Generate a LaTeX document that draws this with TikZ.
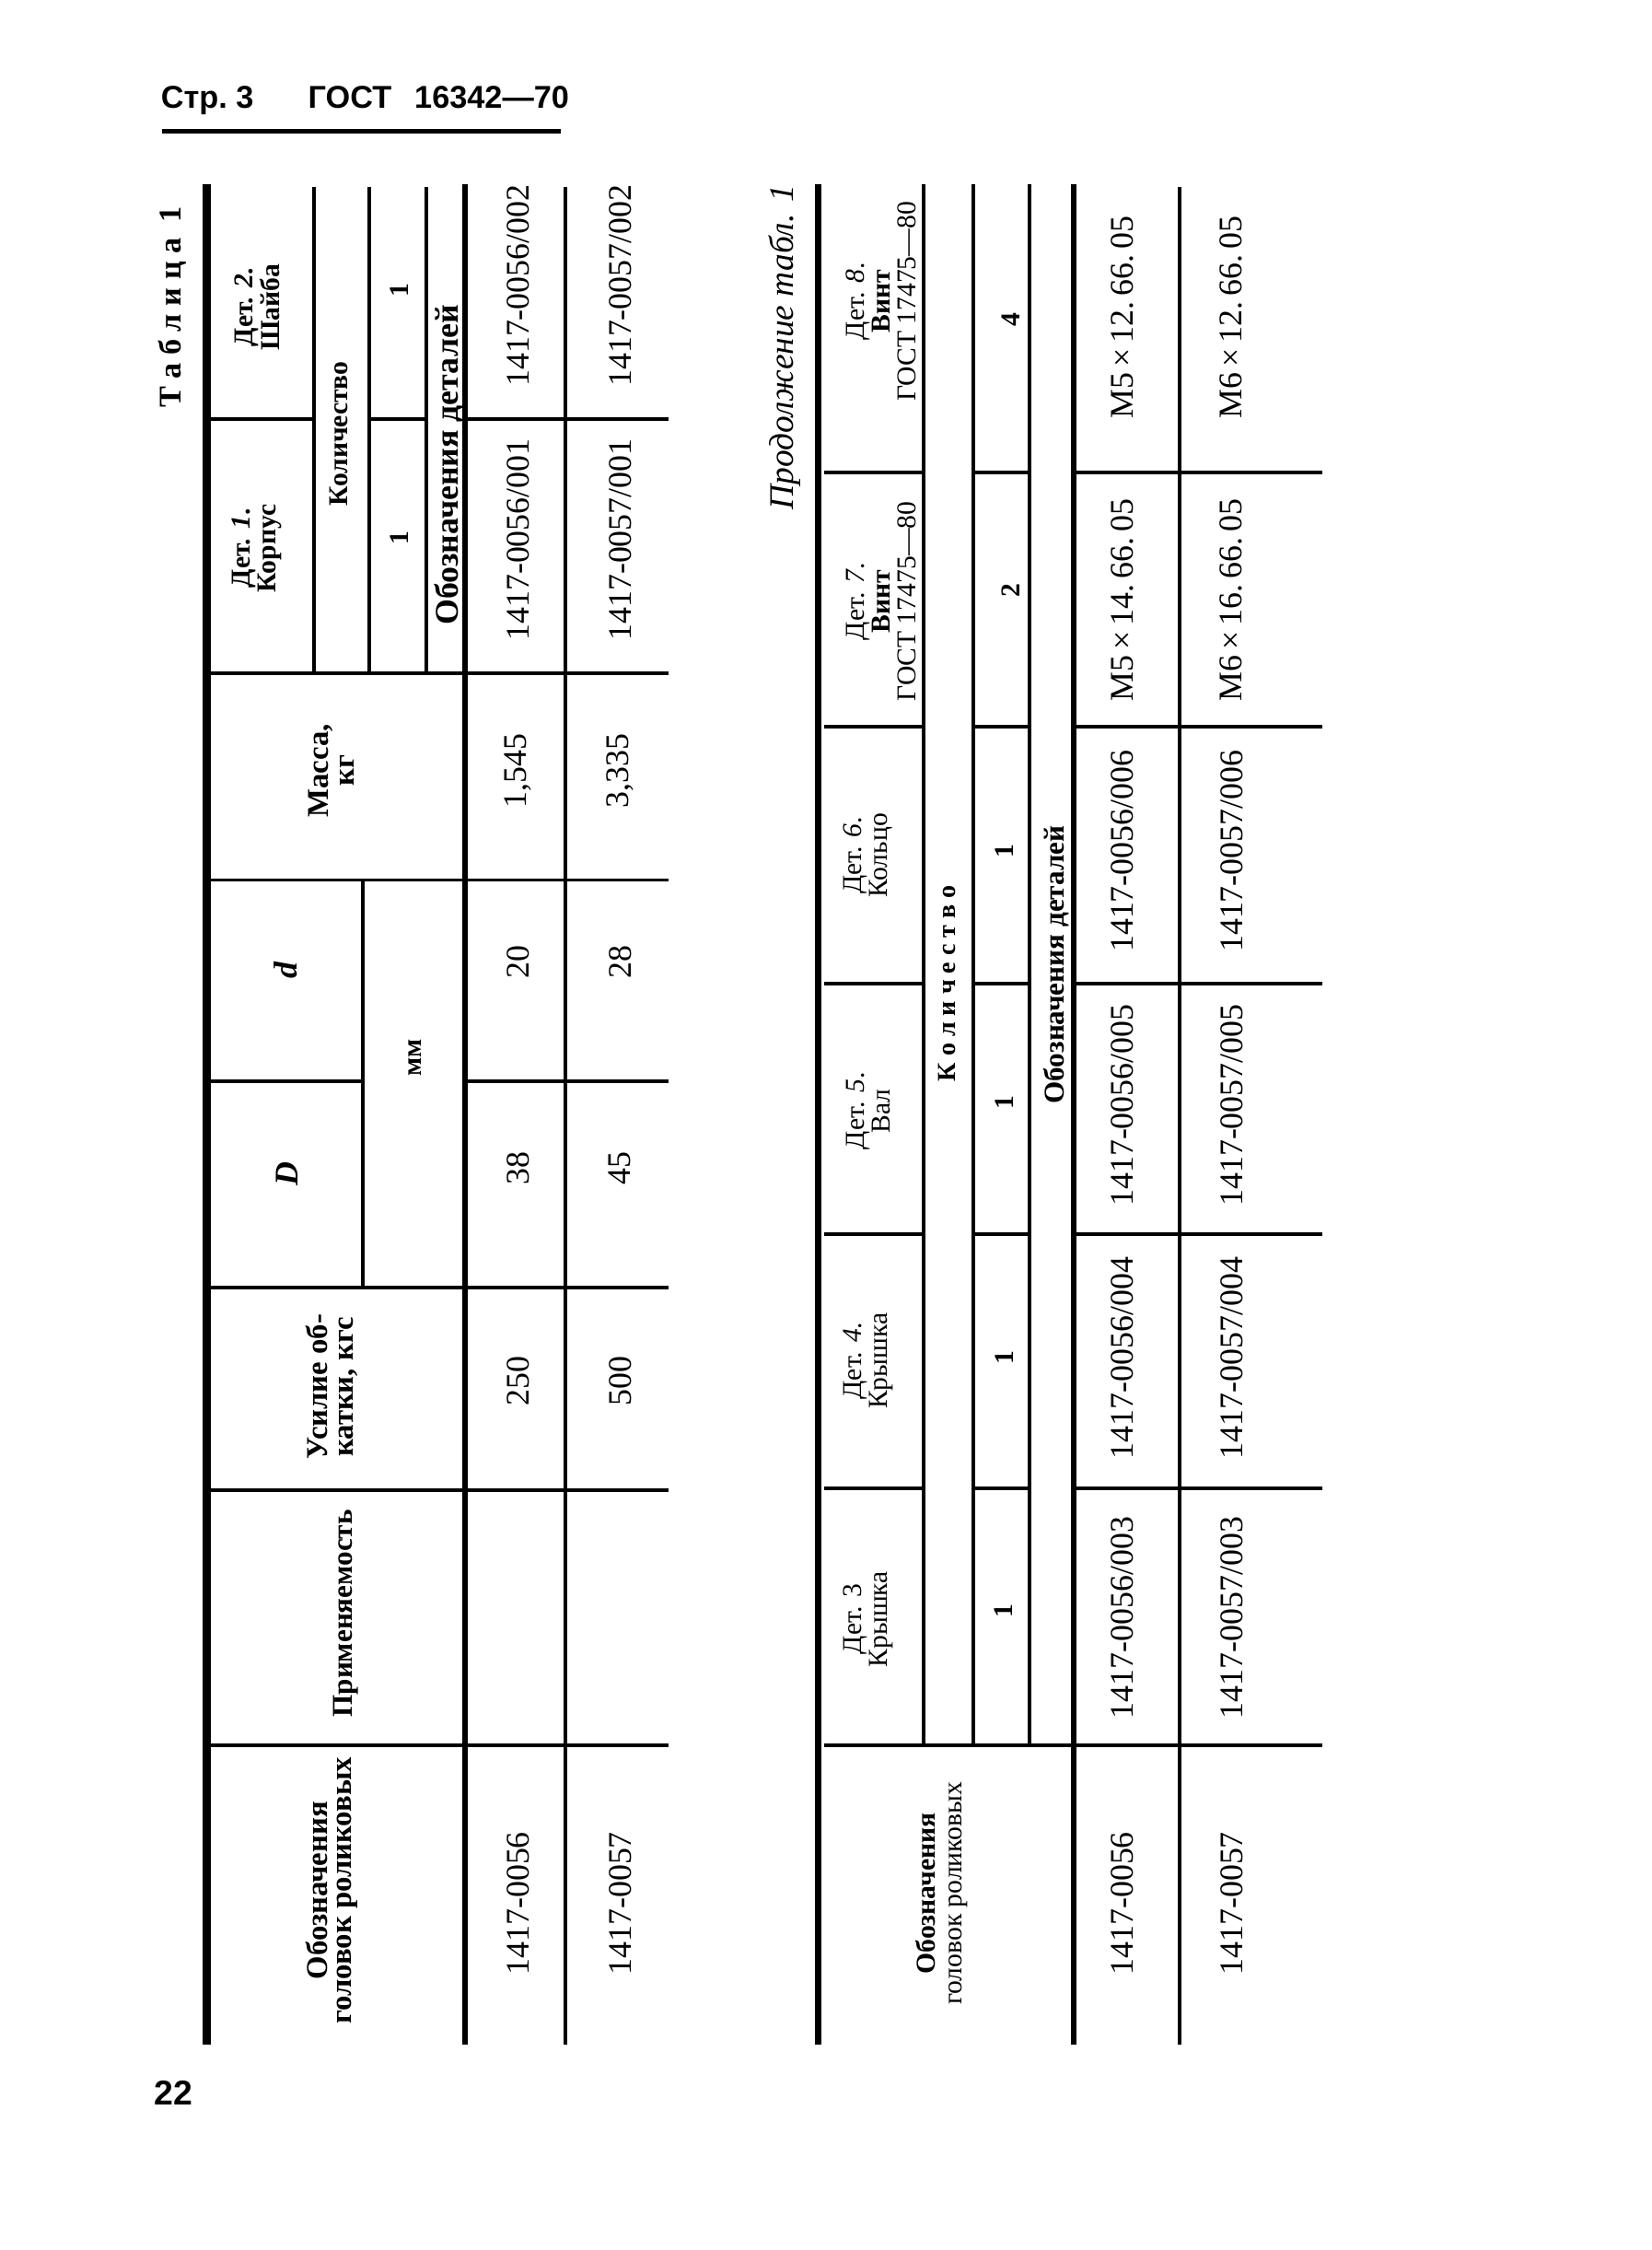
\documentclass[tikz,border=0pt]{standalone}
\usepackage{fontspec}
\setmainfont{Liberation Serif}
\setsansfont{Liberation Sans}
\begin{document}
\begin{tikzpicture}[x=1pt, y=-1pt,
    rot/.style={rotate=90, inner sep=0pt, align=center},
    hb/.style={rot, font=\fontsize{19}{18.5}\selectfont\bfseries},
    hr/.style={rot, font=\fontsize{19}{18}\selectfont},
    cell/.style={rot, font=\fontsize{23}{23}\selectfont},
    gridline/.style={line width=2.5pt},
    headline/.style={line width=3.5pt},
    rowline/.style={line width=2.8pt}]
\useasboundingbox (0,0) rectangle (1151,1567.4);
\fill[white] (0,0) rectangle (1151,1567.4);

\node (Hdr) [anchor=base west, inner sep=0pt, font=\sffamily\bfseries\fontsize{22}{22}\selectfont] at (112,75.5) {Стр.~3\hspace{38pt}ГОСТ\hspace{16pt}16342—70};
\draw[line width=3.5pt] (113,91.5) -- (391,91.5);
\node (Page) [font=\sffamily\bfseries\fontsize{24}{24}\selectfont] at (121,1458) {22};

\node (Tab) [rot, font=\bfseries\fontsize{22}{22}\selectfont] at (120,214) {Т а б л и ц а\ \ 1};

\draw[line width=6pt] (144,128) -- (144,1424);
\draw[gridline] (219,130) -- (219,469);
\draw[gridline] (257,130) -- (257,469);
\draw[gridline] (297,130) -- (297,469);
\draw[gridline] (253,613) -- (253,897);
\draw[headline] (324,128) -- (324,1424);
\draw[rowline] (394,130) -- (394,1424);
\draw[gridline] (147,292) -- (219,292) (257,292) -- (297,292) (324,292) -- (466,292);
\draw[gridline] (147,469) -- (466,469);
\draw[gridline] (147,613) -- (466,613);
\draw[gridline] (147,753) -- (253,753) (324,753) -- (466,753);
\draw[gridline] (147,897) -- (466,897);
\draw[gridline] (147,1038) -- (466,1038);
\draw[gridline] (147,1216) -- (466,1216);

\node (Det2) [hb] at (179,214) {Дет. \textit{2}.\\Шайба};
\node (Det1) [hb] at (179,382) {Дет. \textit{1}.\\Корпус};
\node (Kol1) [hb] at (236,302) {Количество};
\node (QtyB) [hb] at (278,202) {1};
\node (QtyA) [hb] at (278,375) {1};
\node (Oboz1) [hb, font=\fontsize{23}{23}\selectfont\bfseries] at (313,324) {Обозначения деталей};
\node (Mass) [hb, font=\fontsize{21}{18}\selectfont\bfseries] at (231,537) {Масса,\\кг};
\node (Dsm) [hb, font=\fontsize{23}{23}\selectfont\bfseries\itshape] at (199,676) {d};
\node (Dbig) [hb, font=\fontsize{23}{23}\selectfont\bfseries\itshape] at (200,818) {D};
\node (Mm) [hb] at (289,737) {мм};
\node (Force) [hb, font=\fontsize{21}{18}\selectfont\bfseries] at (231,966) {Усилие об-\\катки, кгс};
\node (Use) [hb, font=\fontsize{20}{20}\selectfont\bfseries] at (241,1124) {Применяемость};
\node (Head1) [hb, font=\fontsize{21}{17}\selectfont\bfseries] at (231,1317) {Обозначения\\головок роликовых};

\node (A2) [cell] at (361,199) {1417-0056/002};
\node (A1) [cell] at (361,376) {1417-0056/001};
\node (AM) [cell] at (361,537) {1,545};
\node (Ad) [cell] at (361,670) {20};
\node (AD) [cell] at (361,814) {38};
\node (AF) [cell] at (361,962) {250};
\node (AH) [cell] at (361,1326) {1417-0056};
\node (B2) [cell] at (432,199) {1417-0057/002};
\node (B1) [cell] at (432,376) {1417-0057/001};
\node (BM) [cell] at (432,537) {3,335};
\node (Bd) [cell] at (432,670) {28};
\node (BD) [cell] at (432,814) {45};
\node (BF) [cell] at (432,962) {500};
\node (BH) [cell] at (432,1326) {1417-0057};

\node (Cont) [rot, font=\fontsize{24}{24}\selectfont\itshape] at (547,242) {Продолжение табл. 1};

\draw[line width=5pt] (570,128) -- (570,1424);
\draw[gridline] (643.5,128) -- (643.5,1216);
\draw[gridline] (678,128) -- (678,1216);
\draw[gridline] (717.5,128) -- (717.5,1216);
\draw[headline] (748,128) -- (748,1424);
\draw[rowline] (822,130) -- (822,1424);
\draw[gridline] (574,329) -- (643.5,329) (678,329) -- (717.5,329) (748,329) -- (921,329);
\draw[gridline] (574,506) -- (643.5,506) (678,506) -- (717.5,506) (748,506) -- (921,506);
\draw[gridline] (574,685) -- (643.5,685) (678,685) -- (717.5,685) (748,685) -- (921,685);
\draw[gridline] (574,860) -- (643.5,860) (678,860) -- (717.5,860) (748,860) -- (921,860);
\draw[gridline] (574,1037) -- (643.5,1037) (678,1037) -- (717.5,1037) (748,1037) -- (921,1037);
\draw[gridline] (574,1216) -- (921,1216);

\node (Det8) [hr] at (614,210) {Дет. \textit{8}.\\\textbf{Винт}\\ГОСТ 17475—80};
\node (Det7) [hr] at (614,419) {Дет. \textit{7}.\\\textbf{Винт}\\ГОСТ 17475—80};
\node (Det6) [hr] at (605,596) {Дет. \textit{6}.\\Кольцо};
\node (Det5) [hr] at (605,774) {Дет. \textit{5}.\\Вал};
\node (Det4) [hr] at (605,948) {Дет. \textit{4}.\\Крышка};
\node (Det3) [hr] at (605,1128) {Дет. 3\\Крышка};
\node (Kol2) [hb, font=\fontsize{18}{18}\selectfont\bfseries] at (660,685) {К\ о\ л\ и\ ч\ е\ с\ т\ в\ о};
\node (Q8) [hb] at (704,223) {4};
\node (Q7) [hb] at (704,411) {2};
\node (Q6) [hb] at (700,593) {1};
\node (Q5) [hb] at (700,768) {1};
\node (Q4) [hb] at (700,946) {1};
\node (Q3) [hb] at (699,1122) {1};
\node (Oboz2) [hb, font=\fontsize{20}{20}\selectfont\bfseries] at (736,672) {Обозначения деталей};
\node (Head2) [hr, font=\fontsize{19}{19}\selectfont] at (656,1319) {\textbf{Обозначения}\\головок роликовых};

\node (C8) [cell] at (782,221) {M5\,×\,12.\,66.\,05};
\node (C7) [cell] at (782,418) {M5\,×\,14.\,66.\,05};
\node (C6) [cell] at (782,593) {1417-0056/006};
\node (C5) [cell] at (782,770) {1417-0056/005};
\node (C4) [cell] at (782,946) {1417-0056/004};
\node (C3) [cell] at (782,1127) {1417-0056/003};
\node (CH) [cell] at (782,1326) {1417-0056};
\node (D8) [cell] at (858,221) {M6\,×\,12.\,66.\,05};
\node (D7) [cell] at (858,418) {M6\,×\,16.\,66.\,05};
\node (D6) [cell] at (858,593) {1417-0057/006};
\node (D5) [cell] at (858,770) {1417-0057/005};
\node (D4) [cell] at (858,946) {1417-0057/004};
\node (D3) [cell] at (858,1127) {1417-0057/003};
\node (DH) [cell] at (858,1326) {1417-0057};
\end{tikzpicture}
\end{document}
